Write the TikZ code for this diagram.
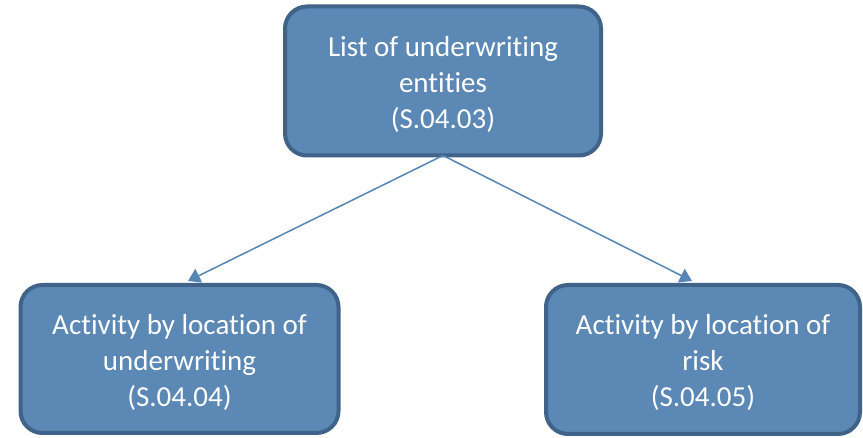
\documentclass[tikz,border=0pt]{standalone}
\usepackage{fontspec}
\setmainfont{Carlito}[Ligatures=NoCommon]
\usetikzlibrary{arrows.meta,calc}
\definecolor{boxfill}{HTML}{5B88B5}
\definecolor{boxline}{HTML}{40638A}
\definecolor{conn}{HTML}{5585B5}
\newcommand{\topstrut}{\rule{0pt}{27pt}}
\begin{document}
\begin{tikzpicture}[x=1pt,y=-1pt,
  entbox/.style={draw=boxline,fill=boxfill,line width=4pt,rounded corners=22pt,
    text=white,align=center,inner sep=0pt,
    font=\fontsize{29}{36}\selectfont},
  conline/.style={draw=conn,line width=1.5pt,-{Triangle[width=15pt,length=12pt]}}]
\useasboundingbox (0,0) rectangle (863,438);
\node[entbox,minimum width=316pt,minimum height=149pt] (top) at (443,81)
  {\topstrut List of underwriting\\entities\\(S.04.03)};
\node[entbox,minimum width=318pt,minimum height=148pt] (left) at (179.5,359)
  {\topstrut Activity by location of\\underwriting\\(S.04.04)};
\node[entbox,minimum width=314pt,minimum height=149pt] (right) at (703,359.5)
  {\topstrut Activity by location of\\risk\\(S.04.05)};
\coordinate (lt) at ($(left.north)+(8.5,-2)$);
\coordinate (rt) at ($(right.north)+(-11,-2)$);
\draw[conline] ($(top.south)+(0,-2)$) -- (lt);
\draw[conline] ($(top.south)+(0,-2)$) -- (rt);
\end{tikzpicture}
\end{document}
